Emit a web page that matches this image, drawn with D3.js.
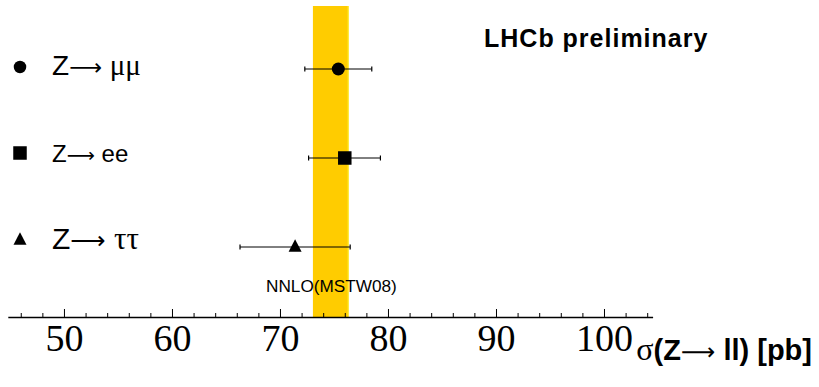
<!DOCTYPE html>
<html>
<head>
<meta charset="utf-8">
<script src="https://cdn.jsdelivr.net/npm/d3@7"></script>
<style>
  body { margin: 0; background: #fff; }
  svg { display: block; }
</style>
</head>
<body>
<div id="chart"></div>
<script>
// measurements of sigma(Z -> ll), pb
var channels = ["mumu", "ee", "tautau"];
var centralValues = [75.4, 76.0, 71.4];
var errLow = [72.3, 72.65, 66.3];
var errHigh = [78.5, 79.3, 76.5];
var markerShapes = ["circle", "square", "triangle"];

// NNLO (MSTW08) prediction band
var bandLow = 73.05;
var bandHigh = 76.35;

// axis ticks
var majorTicks = [50, 60, 70, 80, 90, 100];
var minorTicks = [46, 48, 52, 54, 56, 58, 62, 64, 66, 68, 72, 74, 76, 78, 82, 84, 86, 88, 92, 94, 96, 98, 102, 104];

var svgWidth = 819;
var svgHeight = 387;
var axisY = 317;
var sans = "Liberation Sans, Arial, sans-serif";
var serif = "Liberation Serif, Times New Roman, serif";
var arrowFont = "DejaVu Sans, sans-serif";

var svg = d3.select("#chart")
    .append("svg")
    .attr("width", svgWidth)
    .attr("height", svgHeight);

var xScale = d3.scaleLinear()
    .domain([44.8, 104.5])
    .range([7.8, 652.6]);

var yScale = d3.scalePoint()
    .domain(channels)
    .range([69, 247]);

// theory band
svg.append("rect")
    .attr("x", xScale(bandLow))
    .attr("y", 6)
    .attr("width", xScale(bandHigh) - xScale(bandLow))
    .attr("height", axisY - 6)
    .attr("fill", "#ffcc00");

svg.append("line")
    .attr("x1", xScale(bandHigh) - 0.5)
    .attr("x2", xScale(bandHigh) - 0.5)
    .attr("y1", 6)
    .attr("y2", axisY)
    .attr("stroke", "#ffee22")
    .attr("stroke-width", 1);

svg.append("text")
    .attr("x", 266)
    .attr("y", 292)
    .style("font-family", sans)
    .style("font-size", "17.2px")
    .text("NNLO(MSTW08)");

// minor ticks
svg.append("g")
    .attr("transform", `translate(0, ${axisY})`)
    .call(d3.axisBottom(xScale)
        .tickValues(minorTicks)
        .tickSizeInner(-4)
        .tickSizeOuter(0)
        .tickFormat(""))
    .call(g => g.select(".domain").remove())
    .selectAll("line")
    .attr("stroke", "#000");

// major axis with labels
var xAxis = svg.append("g")
    .attr("transform", `translate(0, ${axisY})`)
    .call(d3.axisBottom(xScale)
        .tickValues(majorTicks)
        .tickSizeInner(-8)
        .tickSizeOuter(0)
        .tickPadding(0)
        .tickFormat(d3.format("d")));

xAxis.select(".domain")
    .attr("stroke", "#000")
    .attr("stroke-width", 1.3);

xAxis.selectAll("text")
    .attr("dy", null)
    .attr("y", 34)
    .style("font-family", serif)
    .style("font-size", "38px")
    .attr("fill", "#000");

// axis title
var title = svg.append("text")
    .attr("x", 812)
    .attr("y", 360)
    .attr("text-anchor", "end")
    .style("font-family", sans)
    .style("font-weight", "bold")
    .style("font-size", "29px");
title.append("tspan")
    .style("font-family", serif)
    .style("font-weight", "normal")
    .style("font-size", "32px")
    .text("σ");
title.append("tspan").text("(Z");
title.append("tspan")
    .style("font-family", arrowFont)
    .style("font-weight", "normal")
    .style("font-size", "24px")
    .text("⟶");
title.append("tspan").text(" ll) [pb]");

// LHCb label
svg.append("text")
    .attr("x", 484)
    .attr("y", 47)
    .style("font-family", sans)
    .style("font-weight", "bold")
    .style("font-size", "25px")
    .style("letter-spacing", "1px")
    .text("LHCb preliminary");

// markers
function drawMarker(g, shape, cx, cy, s) {
    if (shape === "circle") {
        g.append("circle").attr("cx", cx).attr("cy", cy).attr("r", s / 2).attr("fill", "#000");
    } else if (shape === "square") {
        g.append("rect").attr("x", cx - s / 2).attr("y", cy - s / 2)
            .attr("width", s).attr("height", s).attr("fill", "#000");
    } else {
        var h = s * 0.95;
        g.append("path")
            .attr("d", `M${cx},${cy - h * 0.62}L${cx + s / 2},${cy + h * 0.38}L${cx - s / 2},${cy + h * 0.38}Z`)
            .attr("fill", "#000");
    }
}

var points = svg.append("g");
channels.forEach(function (c, i) {
    var cy = yScale(c);
    points.append("line")
        .attr("x1", xScale(errLow[i]))
        .attr("x2", xScale(errHigh[i]))
        .attr("y1", cy).attr("y2", cy)
        .attr("stroke", "#000").attr("stroke-width", 1);
    [errLow[i], errHigh[i]].forEach(function (v) {
        points.append("line")
            .attr("x1", xScale(v)).attr("x2", xScale(v))
            .attr("y1", cy - 2.5).attr("y2", cy + 2.5)
            .attr("stroke", "#000").attr("stroke-width", 1.2);
    });
    var size = [13, 13.5, 13][i];
    drawMarker(points, markerShapes[i], xScale(centralValues[i]), cy, size);
});

// legend
var legendLabels = [
    { greek: "μμ", size: 28, gsize: 29, font: serif },
    { greek: "ee", size: 24, gsize: 24, font: sans },
    { greek: "ττ", size: 30, gsize: 31, font: serif }
];
var legendY = [67, 153, 240];
var legend = svg.append("g");
channels.forEach(function (c, i) {
    var ly = legendY[i];
    drawMarker(legend, markerShapes[i], 20, ly, [12.5, 13.5, 13][i]);
    var lab = legendLabels[i];
    var t = legend.append("text")
        .attr("x", 52)
        .attr("y", ly + [8, 9, 9][i])
        .style("font-family", sans)
        .style("font-size", lab.size + "px");
    t.append("tspan").text("Z");
    t.append("tspan")
        .style("font-family", arrowFont)
        .style("font-size", (lab.size * 0.82) + "px")
        .text("⟶");
    t.append("tspan").text(" ");
    t.append("tspan")
        .style("font-family", lab.font)
        .style("font-size", lab.gsize + "px")
        .text(lab.greek);
});
</script>
</body>
</html>
